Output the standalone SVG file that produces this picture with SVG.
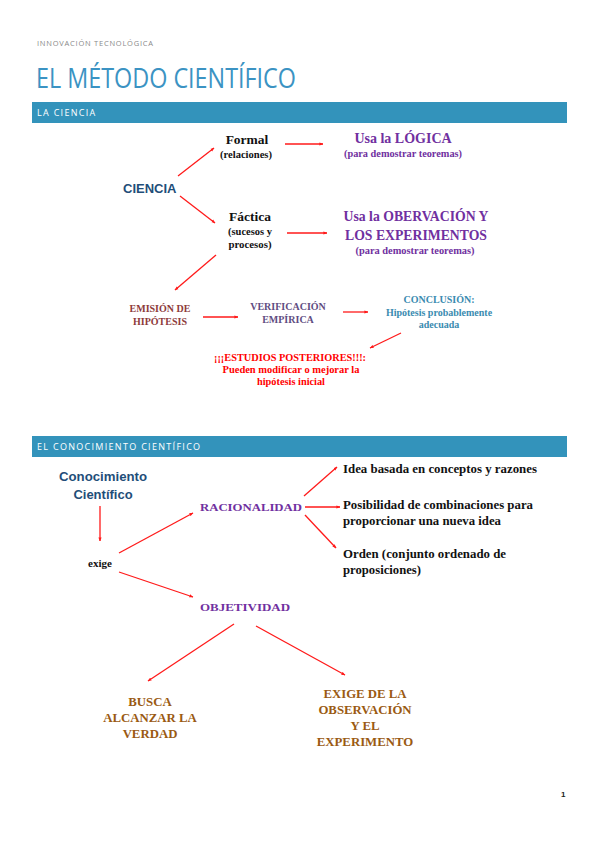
<svg xmlns="http://www.w3.org/2000/svg" width="599" height="848" viewBox="0 0 599 848">
<style>
.hdr{font-family:"Open Sans","Liberation Sans",sans-serif;fill:#fff;font-size:9px;letter-spacing:1.3px}
.s{font-family:"Liberation Serif",serif;font-weight:bold}
.ss{font-family:"Liberation Sans",Arial,sans-serif;font-weight:bold}
.c{text-anchor:middle}
.pur{fill:#7030a0}
.blk{fill:#111}
.cn{fill:#1f4e79}
.br{fill:#8e3b3b}
.vp{fill:#5f4d82}
.tl{fill:#3a8bb0}
.rd{fill:#ff0000}
.or{fill:#9a5a12}
.ln{stroke:#ff1a1a;stroke-width:1.3;fill:none;marker-end:url(#ah)}
</style>
<defs>
<marker id="ah" viewBox="0 0 10 10" refX="9" refY="5" markerWidth="4" markerHeight="4" orient="auto" markerUnits="userSpaceOnUse"><path d="M0,1 L10,5 L0,9 z" fill="#ff1a1a"/></marker>
</defs>
<rect width="599" height="848" fill="#fff"/>
<g id="header">
<text x="37" y="46" font-family="'Open Sans','Liberation Sans',sans-serif" font-size="7.5" fill="#8a8a8a" textLength="116" lengthAdjust="spacing">INNOVACIÓN TECNOLÓGICA</text>
<text x="36" y="88" font-family="'Open Sans','Liberation Sans',sans-serif" font-weight="400" font-size="28" fill="#3b93c3" textLength="260" lengthAdjust="spacingAndGlyphs">EL MÉTODO CIENTÍFICO</text>
<rect x="32" y="102" width="535" height="21" fill="#3393bb"/>
<text class="hdr" x="37" y="116">LA CIENCIA</text>
<rect x="32" y="436" width="535" height="21" fill="#3393bb"/>
<text class="hdr" x="37" y="450">EL CONOCIMIENTO CIENTÍFICO</text>
<text x="561" y="797" font-family="'Liberation Sans',sans-serif" font-size="8" fill="#222" font-weight="bold">1</text>
</g>
<g id="connectors">
<line class="ln" x1="285" y1="144" x2="323" y2="144"/>
<line class="ln" x1="178" y1="176" x2="214" y2="148"/>
<line class="ln" x1="180" y1="196" x2="215" y2="223"/>
<line class="ln" x1="287" y1="233" x2="327" y2="233"/>
<line class="ln" x1="216" y1="255" x2="175" y2="290"/>
<line class="ln" x1="203" y1="317" x2="238" y2="317"/>
<line class="ln" x1="343" y1="312" x2="368" y2="312"/>
<line class="ln" x1="401" y1="333" x2="370" y2="348"/>
<line class="ln" x1="100" y1="506" x2="100" y2="541"/>
<line class="ln" x1="119" y1="553" x2="193" y2="513"/>
<line class="ln" x1="304" y1="496" x2="337" y2="467"/>
<line class="ln" x1="305" y1="507" x2="340" y2="507"/>
<line class="ln" x1="305" y1="515" x2="336" y2="548"/>
<line class="ln" x1="119" y1="572" x2="193" y2="597"/>
<line class="ln" x1="234" y1="624" x2="148" y2="681"/>
<line class="ln" x1="256" y1="626" x2="345" y2="675"/>
</g>
<g id="ciencia"><text class="ss cn" x="123" y="193" font-size="13">CIENCIA</text></g>
<g id="formal">
<text class="s blk c" x="247" y="144" font-size="13.5">Formal</text>
<text class="s blk c" x="246" y="158" font-size="9.5" textLength="52" lengthAdjust="spacingAndGlyphs">(relaciones)</text>
</g>
<g id="logica">
<text class="s pur c" x="403" y="143" font-size="14">Usa la LÓGICA</text>
<text class="s pur c" x="403" y="157" font-size="10" textLength="118" lengthAdjust="spacingAndGlyphs">(para demostrar teoremas)</text>
</g>
<g id="factica">
<text class="s blk c" x="250" y="221" font-size="13.5">Fáctica</text>
<text class="s blk c" x="250" y="235" font-size="9.5" textLength="44" lengthAdjust="spacingAndGlyphs">(sucesos y</text>
<text class="s blk c" x="250" y="248" font-size="9.5" textLength="43" lengthAdjust="spacingAndGlyphs">procesos)</text>
</g>
<g id="observacion">
<text class="s pur c" x="416" y="221" font-size="14" textLength="145" lengthAdjust="spacingAndGlyphs">Usa la OBERVACIÓN Y</text>
<text class="s pur c" x="416" y="240" font-size="14" textLength="142" lengthAdjust="spacingAndGlyphs">LOS EXPERIMENTOS</text>
<text class="s pur c" x="415" y="254" font-size="10" textLength="119" lengthAdjust="spacingAndGlyphs">(para demostrar teoremas)</text>
</g>
<g id="emision">
<text class="s br c" x="160" y="312" font-size="10">EMISIÓN DE</text>
<text class="s br c" x="160" y="325" font-size="10">HIPÓTESIS</text>
</g>
<g id="verificacion">
<text class="s vp c" x="288" y="310" font-size="10">VERIFICACIÓN</text>
<text class="s vp c" x="288" y="323" font-size="10">EMPÍRICA</text>
</g>
<g id="conclusion">
<text class="s tl c" x="439" y="303" font-size="10">CONCLUSIÓN:</text>
<text class="s tl c" x="439" y="316" font-size="10">Hipótesis probablemente</text>
<text class="s tl c" x="439" y="328" font-size="10">adecuada</text>
</g>
<g id="estudios">
<text class="s rd c" x="290" y="361" font-size="10" textLength="152" lengthAdjust="spacingAndGlyphs">¡¡¡ESTUDIOS POSTERIORES!!!:</text>
<text class="s rd c" x="291" y="373" font-size="10" textLength="137" lengthAdjust="spacingAndGlyphs">Pueden modificar o mejorar la</text>
<text class="s rd c" x="291" y="385" font-size="10" textLength="68" lengthAdjust="spacingAndGlyphs">hipótesis inicial</text>
</g>
<g id="conocimiento">
<text class="ss cn c" x="103" y="481" font-size="13" textLength="88" lengthAdjust="spacingAndGlyphs">Conocimiento</text>
<text class="ss cn c" x="103" y="499" font-size="13">Científico</text>
</g>
<g id="exige"><text class="s blk c" x="100" y="567" font-size="11">exige</text></g>
<g id="racionalidad"><text class="s pur c" x="251" y="511" font-size="11" textLength="102" lengthAdjust="spacingAndGlyphs">RACIONALIDAD</text></g>
<g id="idea"><text class="s blk" x="343" y="473" font-size="11.5" textLength="194" lengthAdjust="spacingAndGlyphs">Idea basada en conceptos y razones</text></g>
<g id="posibilidad">
<text class="s blk" x="343" y="509" font-size="11.5" textLength="190" lengthAdjust="spacingAndGlyphs">Posibilidad de combinaciones para</text>
<text class="s blk" x="343" y="525" font-size="11.5" textLength="158" lengthAdjust="spacingAndGlyphs">proporcionar una nueva idea</text>
</g>
<g id="orden">
<text class="s blk" x="343" y="558" font-size="11.5" textLength="163" lengthAdjust="spacingAndGlyphs">Orden (conjunto ordenado de</text>
<text class="s blk" x="343" y="574" font-size="11.5" textLength="78" lengthAdjust="spacingAndGlyphs">proposiciones)</text>
</g>
<g id="objetividad"><text class="s pur c" x="245" y="611" font-size="11" textLength="90" lengthAdjust="spacingAndGlyphs">OBJETIVIDAD</text></g>
<g id="busca">
<text class="s or c" x="150" y="706" font-size="12.8">BUSCA</text>
<text class="s or c" x="150" y="722" font-size="12.8">ALCANZAR LA</text>
<text class="s or c" x="150" y="738" font-size="12.8">VERDAD</text>
</g>
<g id="exigede">
<text class="s or c" x="365" y="698" font-size="12.8">EXIGE DE LA</text>
<text class="s or c" x="365" y="714" font-size="12.8">OBSERVACIÓN</text>
<text class="s or c" x="365" y="730" font-size="12.8">Y EL</text>
<text class="s or c" x="365" y="746" font-size="12.8">EXPERIMENTO</text>
</g>
</svg>
